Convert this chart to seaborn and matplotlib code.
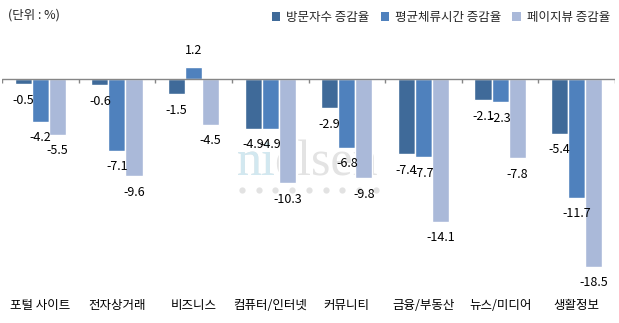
import numpy as np
import pandas as pd
import matplotlib
matplotlib.use("Agg")
import matplotlib.pyplot as plt
import seaborn as sns
from matplotlib.patches import Patch

# categories and series
categories = ["포털 사이트", "전자상거래", "비즈니스", "컴퓨터/인터넷",
              "커뮤니티", "금융/부동산", "뉴스/미디어", "생활정보"]
series_names = ["방문자수 증감율", "평균체류시간 증감율", "페이지뷰 증감율"]
visitors = [-0.5, -0.6, -1.5, -4.9, -2.9, -7.4, -2.1, -5.4]
dwell_time = [-4.2, -7.1, 1.2, -4.9, -6.8, -7.7, -2.3, -11.7]
page_views = [-5.5, -9.6, -4.5, -10.3, -9.8, -14.1, -7.8, -18.5]

colors = ["#3F6A99", "#4F81BD", "#AAB9D9"]

sns.set_theme(style="white")
plt.rcParams["font.family"] = ["Noto Sans CJK KR", "DejaVu Sans"]
plt.rcParams["axes.unicode_minus"] = False

df = pd.DataFrame({
    "category": categories * 3,
    "series": np.repeat(series_names, len(categories)),
    "value": visitors + dwell_time + page_views,
})

W, H = 619, 323
fig = plt.figure(figsize=(W / 100, H / 100), dpi=100)
ax = fig.add_axes([2 / W, 31 / H, 613 / W, 253.6 / H])

sns.barplot(data=df, x="category", y="value", hue="series",
            order=categories, hue_order=series_names, palette=colors,
            width=0.67, saturation=1, errorbar=None, legend=False,
            ax=ax, zorder=2)

ax.set_xlim(-0.5, len(categories) - 0.5)
ax.set_ylim(-21, 4)

# zero line with category boundary ticks
ax.axhline(0, color="#868686", lw=1, zorder=3)
bounds = np.arange(len(categories) + 1) - 0.5
ax.vlines(bounds, -0.4, 0, color="#868686", lw=1, zorder=3)

# value labels at bar ends
for bar in ax.patches:
    h = bar.get_height()
    x = bar.get_x() + bar.get_width() / 2
    off = 11.5 if h >= 0 else -11.5
    ax.annotate(f"{h:.1f}", (x, h), xytext=(0, off), textcoords="offset points",
                ha="center", va="center", fontsize=9, color="black", zorder=4)

for s in ax.spines.values():
    s.set_visible(False)
ax.set_yticks([])
ax.set_xlabel("")
ax.set_ylabel("")
ax.tick_params(axis="x", length=0, pad=5, labelsize=9, colors="black")

# watermark behind the bars
tf = fig.transFigure
ax.text(237 / W, 1 - 175 / H, "nielsen", transform=tf, fontsize=36,
        family="Liberation Serif", color="#E3E3E3", va="baseline", ha="left", zorder=1)
ax.text(237 / W, 1 - 175 / H, "ni", transform=tf, fontsize=36,
        family="Liberation Serif", color="#D2E8F0", va="baseline", ha="left", zorder=1)
dot_x = (242 + 16.7 * np.arange(9)) / W
ax.plot(dot_x, np.full(9, 1 - 190 / H), "o", ms=4.5, color="#E2E2E2",
        mec="none", transform=tf, zorder=1, clip_on=False)

fig.text(8 / W, 1 - 15 / H, "(단위 : %)", fontsize=9, va="center", ha="left")

handles = [Patch(facecolor=c, edgecolor="none") for c in colors]
fig.legend(handles, series_names, loc="center right", bbox_to_anchor=(610 / W, 1 - 17 / H),
           ncol=3, frameon=False, fontsize=9, handlelength=0.7, handleheight=0.7,
           handletextpad=0.45, columnspacing=0.9, borderaxespad=0, borderpad=0)

fig.savefig("out.png", dpi=100)
